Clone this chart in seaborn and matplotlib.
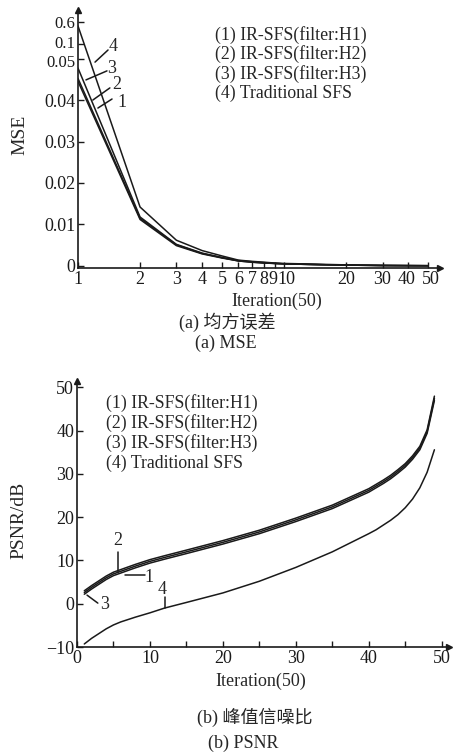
import numpy as np
import matplotlib
matplotlib.use("Agg")
import matplotlib.pyplot as plt
import matplotlib.ticker as mticker
import matplotlib.transforms as mtrans
import seaborn as sns

# MSE curves (log x axis)
mse_iter = [1, 2, 3, 4, 5, 6, 7, 8, 9, 10, 15, 20, 30, 40, 50]
mse_h1 = [0.0445, 0.0112, 0.0049, 0.0029, 0.0019, 0.0012, 0.0009, 0.0007, 0.0006, 0.0005, 0.0003, 0.0002, 0.0001, 0.00007, 0.00005]
mse_h2 = [0.0452, 0.0115, 0.0051, 0.0030, 0.0020, 0.0012, 0.0009, 0.0007, 0.0006, 0.0005, 0.0003, 0.0002, 0.0001, 0.00007, 0.00005]
mse_h3 = [0.0477, 0.0118, 0.0052, 0.0031, 0.0020, 0.0013, 0.0010, 0.0008, 0.0006, 0.0005, 0.0003, 0.0002, 0.0001, 0.00007, 0.00005]
mse_sfs = [0.52, 0.0142, 0.0062, 0.0037, 0.0024, 0.0014, 0.0011, 0.0009, 0.0007, 0.0006, 0.0004, 0.00025, 0.00012, 0.00008, 0.00006]

# PSNR curves
psnr_iter = [1, 2, 3, 4, 5, 6, 8, 10, 12, 15, 20, 25, 30, 35, 40, 41, 42, 43, 44, 45, 46, 47, 48, 49]
psnr_h1 = [2.2, 3.4, 4.5, 5.6, 6.5, 7.1, 8.3, 9.4, 10.3, 11.6, 13.8, 16.2, 19.0, 22.0, 25.8, 26.8, 27.8, 28.9, 30.2, 31.6, 33.4, 35.6, 39.4, 47.0]
psnr_h2 = [3.0, 4.2, 5.3, 6.4, 7.3, 7.9, 9.1, 10.2, 11.1, 12.4, 14.6, 17.0, 19.8, 22.8, 26.6, 27.6, 28.6, 29.7, 31.0, 32.4, 34.2, 36.4, 40.2, 48.0]
psnr_h3 = [2.6, 3.8, 4.9, 6.0, 6.9, 7.5, 8.7, 9.8, 10.7, 12.0, 14.2, 16.6, 19.4, 22.4, 26.2, 27.2, 28.2, 29.3, 30.6, 32.0, 33.8, 36.0, 39.8, 47.5]
psnr_sfs = [-9.3, -8.0, -6.9, -5.8, -4.9, -4.2, -3.1, -2.1, -1.0, 0.3, 2.5, 5.2, 8.4, 12.0, 16.2, 17.1, 18.2, 19.3, 20.6, 22.2, 24.2, 26.8, 30.4, 35.6]

legend_lines = ["(1) IR-SFS(filter:H1)", "(2) IR-SFS(filter:H2)",
                "(3) IR-SFS(filter:H3)", "(4) Traditional SFS"]

mse_ticks = [0, 0.01, 0.02, 0.03, 0.04, 0.05, 0.1, 0.6]
mse_tick_labels = ["0", "0.01", "0.02", "0.03", "0.04", "0.05", "0.1", "0.6"]
iter_ticks = [1, 2, 3, 4, 5, 6, 7, 8, 9, 10, 20, 30, 40, 50]

sns.set_theme(style="ticks")
plt.rcParams["font.family"] = ["Liberation Serif", "Noto Sans CJK SC"]
plt.rcParams["xtick.direction"] = "in"
plt.rcParams["ytick.direction"] = "in"

FS = 13
LW = 1.1
fig = plt.figure(figsize=(4.54, 7.53), dpi=100)

# piecewise y scale of the MSE plot: linear up to 0.05, compressed above
knots_v = np.array([-0.01, 0.0, 0.05, 0.1, 0.6, 1.0])
knots_p = np.array([-1.0, 0.0, 5.0, 5.34, 5.87, 6.3])


def fwd(v):
    return np.interp(v, knots_v, knots_p)


def inv(p):
    return np.interp(p, knots_p, knots_v)


def style_axes(ax):
    sns.despine(ax=ax)
    for s in ["left", "bottom"]:
        ax.spines[s].set_linewidth(1.2)
        ax.spines[s].set_color("k")
    ax.tick_params(which="both", length=4, width=1, colors="k", labelsize=FS, pad=2)
    ax.plot(1, 0, ">k", transform=ax.transAxes, clip_on=False, markersize=5)
    ax.plot(0, 1, "^k", transform=ax.transAxes, clip_on=False, markersize=5)


def nudge(label, dx, dy):
    off = mtrans.ScaledTranslation(dx / 72, dy / 72, fig.dpi_scale_trans)
    label.set_transform(label.get_transform() + off)


# ---- (a) MSE ----
ax1 = fig.add_axes([78 / 454, 1 - 268 / 753, 362 / 454, 258 / 753])
for vals in [mse_h1, mse_h2, mse_h3, mse_sfs]:
    sns.lineplot(x=mse_iter, y=vals, color="k", lw=LW, ax=ax1)
ax1.set_xscale("log")
ax1.set_yscale("function", functions=(fwd, inv))
ax1.set_xlim(1, 57)
ax1.set_ylim(-0.0005, 0.88)
ax1.xaxis.set_major_locator(mticker.FixedLocator(iter_ticks))
ax1.xaxis.set_major_formatter(mticker.FixedFormatter([str(t) for t in iter_ticks]))
ax1.xaxis.set_minor_locator(mticker.NullLocator())
ax1.yaxis.set_major_locator(mticker.FixedLocator(mse_ticks))
ax1.yaxis.set_major_formatter(mticker.FixedFormatter(mse_tick_labels))
ax1.yaxis.set_minor_locator(mticker.NullLocator())
style_axes(ax1)
fig.canvas.draw()
for lab in ax1.get_xticklabels():
    if lab.get_text() == "9":
        nudge(lab, -1.2, 0)
    if lab.get_text() == "10":
        nudge(lab, 1.8, 0)
    if lab.get_text() == "40":
        nudge(lab, -1.0, 0)
    if lab.get_text() == "50":
        nudge(lab, 1.5, 0)
for lab in ax1.get_yticklabels():
    if lab.get_text() in ("0.1", "0.05", "0.6"):
        lab.set_fontsize(12)
    if lab.get_text() == "0.1":
        nudge(lab, 0, 1.5)
    if lab.get_text() == "0.05":
        nudge(lab, 0, -1.5)
ax1.set_xlabel("Iteration(50)", fontsize=FS)
ax1.xaxis.set_label_coords(0.55, -0.095)
ax1.set_ylabel("MSE", fontsize=FS + 1)
ax1.yaxis.set_label_coords(-0.138, 0.516)

for i, line in enumerate(legend_lines):
    ax1.text(0.378, 0.903 - i * 0.075, line, transform=ax1.transAxes,
             fontsize=12.8, va="center", ha="left")

# curve labels with leader lines
top_marks = [("4", (0.097, 0.857), (0.047, 0.798), (0.083, 0.845)),
             ("3", (0.094, 0.775), (0.022, 0.729), (0.080, 0.764)),
             ("2", (0.108, 0.713), (0.041, 0.651), (0.088, 0.698)),
             ("1", (0.122, 0.643), (0.055, 0.620), (0.094, 0.655))]
for lab, txt, p0, p1 in top_marks:
    ax1.plot([p0[0], p1[0]], [p0[1], p1[1]], color="k", lw=LW, transform=ax1.transAxes)
    ax1.text(txt[0], txt[1], lab, transform=ax1.transAxes, fontsize=FS,
             ha="center", va="center")

# ---- (b) PSNR ----
ax2 = fig.add_axes([77 / 454, 1 - 647 / 753, 372 / 454, 266 / 753])
for vals in [psnr_h1, psnr_h2, psnr_h3, psnr_sfs]:
    sns.lineplot(x=psnr_iter, y=vals, color="k", lw=LW, ax=ax2)
ax2.set_xlim(0, 51)
ax2.set_ylim(-10, 51.5)
ax2.xaxis.set_major_locator(mticker.MultipleLocator(10))
ax2.xaxis.set_minor_locator(mticker.MultipleLocator(5))
ax2.yaxis.set_major_locator(mticker.MultipleLocator(10))
style_axes(ax2)
ax2.set_xlabel("Iteration(50)", fontsize=FS)
ax2.xaxis.set_label_coords(0.495, -0.098)
ax2.set_ylabel("PSNR/dB", fontsize=FS + 1)
ax2.yaxis.set_label_coords(-0.134, 0.477)

for i, line in enumerate(legend_lines):
    ax2.text(0.078, 0.917 - i * 0.075, line, transform=ax2.transAxes,
             fontsize=12.8, va="center", ha="left")

bot_marks = [("2", (0.110, 0.402), (0.110, 0.357), (0.110, 0.282)),
             ("1", (0.194, 0.262), (0.129, 0.271), (0.183, 0.271)),
             ("4", (0.228, 0.218), (0.237, 0.188), (0.237, 0.147)),
             ("3", (0.075, 0.160), (0.027, 0.195), (0.056, 0.165))]
for lab, txt, p0, p1 in bot_marks:
    ax2.plot([p0[0], p1[0]], [p0[1], p1[1]], color="k", lw=LW, transform=ax2.transAxes)
    ax2.text(txt[0], txt[1], lab, transform=ax2.transAxes, fontsize=FS,
             ha="center", va="center")

# captions
fig.text(227 / 454, 1 - 322 / 753, "(a) 均方误差", fontsize=FS, ha="center", va="center")
fig.text(226 / 454, 1 - 343 / 753, "(a) MSE", fontsize=FS, ha="center", va="center")
fig.text(255 / 454, 1 - 717 / 753, "(b) 峰值信噪比", fontsize=FS, ha="center", va="center")
fig.text(243 / 454, 1 - 743 / 753, "(b) PSNR", fontsize=FS, ha="center", va="center")

fig.savefig("out.png", dpi=100)
